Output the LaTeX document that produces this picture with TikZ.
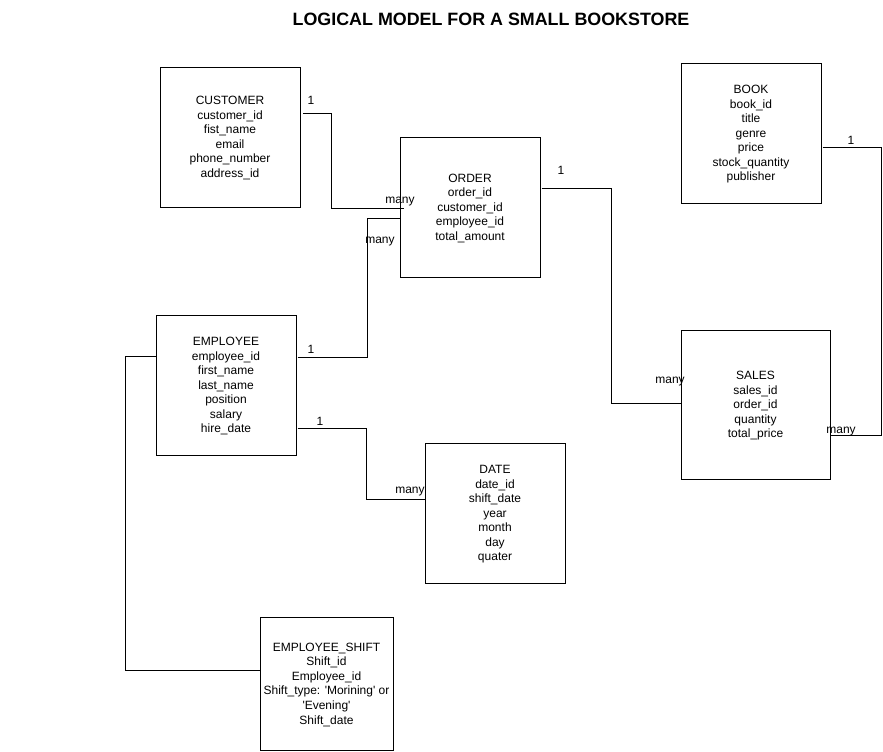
\documentclass[tikz,border=0pt]{standalone}
\usepackage{fontspec}
\setmainfont{Liberation Sans}
\begin{document}
\begin{tikzpicture}[x=0.75pt,y=-0.75pt,
  box/.style={draw,line width=0.75pt,inner sep=0pt,align=center,text depth=0pt,font=\fontsize{9}{10.9}\selectfont},
  lbl/.style={inner sep=0pt,font=\fontsize{9}{10.9}\selectfont},
  conn/.style={line width=0.75pt}]
\useasboundingbox (0,0) rectangle (883,751);
\node[inner sep=0pt,font=\bfseries\fontsize{13.4}{16}\selectfont] (title) at (491,19) {LOGICAL MODEL FOR A SMALL BOOKSTORE};

\node[box,minimum width=105pt,minimum height=105pt] (cust) at (230,137) {CUSTOMER\\customer\_id\\fist\_name\\email\\phone\_number\\address\_id};
\node[box,minimum width=105pt,minimum height=105pt] (order) at (470,207) {ORDER\\order\_id\\customer\_id\\employee\_id\\total\_amount};
\node[box,minimum width=105pt,minimum height=105pt] (book) at (751,133) {BOOK\\book\_id\\title\\genre\\price\\stock\_quantity\\publisher};
\node[box,minimum width=105pt,minimum height=105pt] (emp) at (226,385) {EMPLOYEE\\employee\_id\\first\_name\\last\_name\\position\\salary\\hire\_date};
\node[box,minimum width=111.75pt,minimum height=111.75pt] (sales) at (755.5,404.5) {SALES\\sales\_id\\order\_id\\quantity\\total\_price};
\node[box,minimum width=105pt,minimum height=105pt] (date) at (495,513) {DATE\\date\_id\\shift\_date\\year\\month\\day\\quater};
\node[box,minimum width=99.75pt,minimum height=99.75pt] (shift) at (326.5,683.5) {EMPLOYEE\_SHIFT\\Shift\_id\\Employee\_id\\Shift\_type: \textquotesingle Morining\textquotesingle{} or\\\textquotesingle Evening\textquotesingle\\Shift\_date};

% connectors
\draw[conn] ([xshift=2pt]cust.east |- 0,113) -- (331,113) -- (331,208) -- ([xshift=3pt]order.west |- 0,208);
\draw[conn] ([xshift=0.75pt]emp.east |- 0,357) -- (367,357) -- (367,218) -- (order.west |- 0,218);
\draw[conn] ([xshift=0.75pt]emp.east |- 0,428) -- (366,428) -- (366,499) -- (date.west |- 0,499);
\draw[conn] ([xshift=0.75pt]order.east |- 0,188) -- (611,188) -- (611,403) -- (sales.west |- 0,403);
\draw[conn] ([xshift=0.75pt]book.east |- 0,147) -- (881,147) -- (881,435) -- (sales.east |- 0,435);
\draw[conn] (emp.west |- 0,356) -- (125,356) -- (125,670) -- (shift.west |- 0,670);

% labels
\node[lbl] (l1) at (311,100) {1};
\node[lbl] (m1) at (400,202) {many};
\node[lbl] (l2) at (311,349) {1};
\node[lbl] (m2) at (380,242) {many};
\node[lbl] (l3) at (320,421) {1};
\node[lbl] (m3) at (410,492) {many};
\node[lbl] (l4) at (561,170) {1};
\node[lbl] (m4) at (670,382) {many};
\node[lbl] (l5) at (851,140) {1};
\node[lbl] (m5) at (841,432) {many};
\end{tikzpicture}
\end{document}
